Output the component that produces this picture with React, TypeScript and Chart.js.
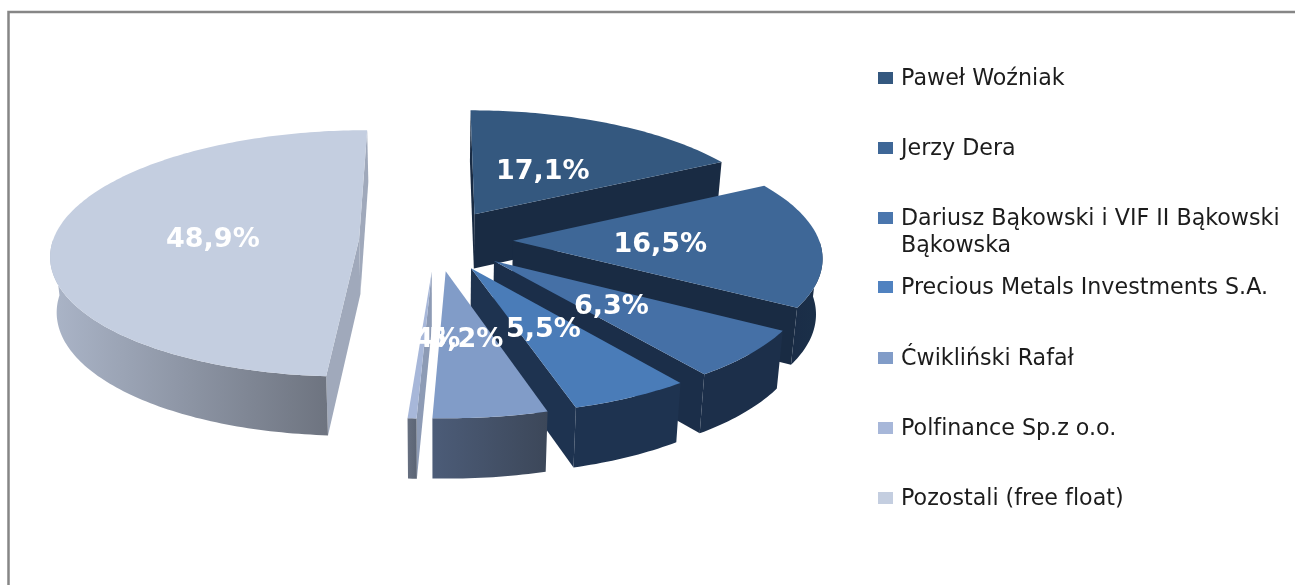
import React, { useEffect, useRef } from "react";
import { Chart, ArcElement, PieController } from "chart.js";

// ---- data ----
const holders = [
  "Paweł Woźniak",
  "Jerzy Dera",
  "Dariusz Bąkowski i VIF II Bąkowski Bąkowska",
  "Precious Metals Investments S.A.",
  "Ćwikliński Rafał",
  "Polfinance Sp.z o.o.",
  "Pozostali (free float)",
];
const shares = [17.1, 16.5, 6.3, 5.5, 5.2, 0.4, 48.9];
const topColors = ["#34587f", "#3e6797", "#4570a6", "#4a7cb8", "#819cc8", "#a7b7d9", "#c4cee0"];
const legendColors = ["#34587f", "#3e6797", "#4a76ad", "#5082c0", "#819cc8", "#a7b7d9", "#c4cee0"];
const rimLeft = ["#1a2d47", "#1a2d47", "#1c2f4a", "#1e3350", "#4c5c78", "#666f80", "#abb5c8"];
const rimRight = ["#1a2d47", "#1b3049", "#1c2f4a", "#1e3350", "#3c4759", "#5c6575", "#6e7480"];
const wallColors = ["#192b43", "#192b43", "#1b2e49", "#1e3350", "#1e3350", "#8d9bb5", "#a0a9bb"];

// ---- 3D view of the pie plane ----
const TILT = 0.398;
const PERSPECTIVE = 0.117;
const DEPTH = 55;
const DEPTH_GROW = 0.03;
const FLOOR_SCALE = 0.983;
const LABEL_RADIUS = 0.48;
const LABEL_DROP = 3;

type Pt = [number, number];

function project(cx: number, cy: number, R: number, px: number, py: number): Pt {
  const w = 1 - (PERSPECTIVE * py) / R;
  return [cx + px / w, cy + (TILT * py) / w];
}

function tracePoly(ctx: CanvasRenderingContext2D, pts: Pt[]) {
  ctx.beginPath();
  pts.forEach((p, k) => (k ? ctx.lineTo(p[0], p[1]) : ctx.moveTo(p[0], p[1])));
  ctx.closePath();
}

function signedArea(pts: Pt[]) {
  let s = 0;
  pts.forEach((p, k) => {
    const q = pts[(k + 1) % pts.length];
    s += p[0] * q[1] - q[0] * p[1];
  });
  return s;
}

class Arc3D extends ArcElement {
  static id = "arc3d";

  centerOfFace() {
    const { x, y, startAngle, endAngle, outerRadius } = this as any;
    const off = (this as any).options.offset || 0;
    const mid = (startAngle + endAngle) / 2;
    const r = off + outerRadius * LABEL_RADIUS;
    return project(x, y, outerRadius, Math.cos(mid) * r, Math.sin(mid) * r);
  }

  paint(ctx: CanvasRenderingContext2D, i: number) {
    const { x: cx, y: cy, startAngle: a0, endAngle: a1, outerRadius: R } = this as any;
    const opts = (this as any).options;
    const off = opts.offset || 0;
    const mid = (a0 + a1) / 2;
    const ox = Math.cos(mid) * off;
    const oy = Math.sin(mid) * off;
    const n = Math.max(2, Math.ceil((a1 - a0) / (Math.PI / 180)));
    const rim: Pt[] = [];
    const front: Pt[] = [];
    for (let k = 0; k <= n; k++) {
      const a = a0 + ((a1 - a0) * k) / n;
      const p = project(cx, cy, R, ox + R * Math.cos(a), oy + R * Math.sin(a));
      rim.push(p);
      if (Math.sin(a) >= 0) front.push(p);
    }
    const apex = project(cx, cy, R, ox, oy);
    const lower = (p: Pt): Pt => [
      cx + (p[0] - cx) * FLOOR_SCALE,
      p[1] + DEPTH + DEPTH_GROW * (p[1] - cy),
    ];

    // straight cut faces, only those turned towards the viewer
    ctx.fillStyle = wallColors[i];
    const startWall: Pt[] = [apex, rim[0], lower(rim[0]), lower(apex)];
    const last = rim[rim.length - 1];
    const endWall: Pt[] = [apex, last, lower(last), lower(apex)];
    if (signedArea(startWall) < 0) {
      tracePoly(ctx, startWall);
      ctx.fill();
    }
    if (signedArea(endWall) > 0) {
      tracePoly(ctx, endWall);
      ctx.fill();
    }

    // outer rim
    if (front.length > 1) {
      const xs = front.map((p) => p[0]);
      const g = ctx.createLinearGradient(Math.min(...xs), 0, Math.max(...xs), 0);
      g.addColorStop(0, rimLeft[i]);
      g.addColorStop(1, rimRight[i]);
      tracePoly(ctx, [...front, ...front.map(lower).reverse()]);
      ctx.fillStyle = g;
      ctx.fill();
    }

    // top face
    tracePoly(ctx, [apex, ...rim]);
    ctx.fillStyle = opts.backgroundColor;
    ctx.fill();
  }
}

class Pie3DController extends PieController {
  static id = "pie3d";
  static defaults = { dataElementType: "arc3d" };

  draw() {
    const ctx = (this as any).chart.ctx as CanvasRenderingContext2D;
    const arcs = (this as any)._cachedMeta.data as Arc3D[];
    arcs.forEach((arc, i) => arc.paint(ctx, i));
    ctx.save();
    ctx.font = 'bold 27px "DejaVu Sans"';
    ctx.fillStyle = "#ffffff";
    ctx.textAlign = "center";
    ctx.textBaseline = "middle";
    arcs.forEach((arc, i) => {
      const [x, y] = arc.centerOfFace();
      ctx.fillText(shares[i].toFixed(1).replace(".", ",") + "%", x, y + LABEL_DROP);
    });
    ctx.restore();
  }
}

Chart.register(Arc3D as any, Pie3DController as any);

const framePlugin = {
  id: "frame",
  beforeDraw(chart: any) {
    const { ctx, width, height } = chart;
    ctx.save();
    ctx.fillStyle = "#ffffff";
    ctx.fillRect(0, 0, width, height);
    ctx.strokeStyle = "#868686";
    ctx.lineWidth = 2.5;
    ctx.beginPath();
    ctx.moveTo(8.5, height);
    ctx.lineTo(8.5, 12);
    ctx.lineTo(width, 12);
    ctx.stroke();
    ctx.restore();
  },
};

const legendRows = [78, 148, 218, 287, 358, 428, 498];
const legendPlugin = {
  id: "sideLegend",
  afterDraw(chart: any) {
    const { ctx } = chart;
    ctx.save();
    (ctx as any).textRendering = "optimizeSpeed";
    ctx.font = '22.2px "DejaVu Sans"';
    ctx.textBaseline = "middle";
    ctx.textAlign = "left";
    holders.forEach((name, i) => {
      const y = legendRows[i];
      ctx.fillStyle = legendColors[i];
      ctx.fillRect(878, y - 6, 15, 12);
      ctx.fillStyle = "#1c1c1c";
      const words = name.split(" ");
      let line = "";
      let yy = y + 1;
      words.forEach((w) => {
        const t = line ? line + " " + w : w;
        if (ctx.measureText(t).width > 390 && line) {
          ctx.fillText(line, 901, yy);
          yy += 27;
          line = w;
        } else line = t;
      });
      ctx.fillText(line, 901, yy);
    });
    ctx.restore();
  },
};

export default function App() {
  const ref = useRef<HTMLCanvasElement>(null);
  useEffect(() => {
    const chart = new Chart(ref.current!, {
      type: "pie3d" as any,
      data: {
        labels: holders,
        datasets: [
          {
            data: shares,
            backgroundColor: topColors,
            borderWidth: 0,
            offset: 77,
            hoverOffset: 77,
            radius: 306,
            clip: false,
          } as any,
        ],
      },
      options: {
        animation: false,
        responsive: false,
        maintainAspectRatio: false,
        events: [],
        layout: { padding: { left: 0, top: 0, right: 423, bottom: 105 } },
        plugins: { legend: { display: false }, tooltip: { enabled: false } },
      } as any,
      plugins: [framePlugin, legendPlugin],
    });
    return () => chart.destroy();
  }, []);
  return (
    <div style={{ position: "fixed", left: 0, top: 0, width: 1295, height: 585 }}>
      <canvas ref={ref} width={1295} height={585} style={{ display: "block" }} />
    </div>
  );
}
